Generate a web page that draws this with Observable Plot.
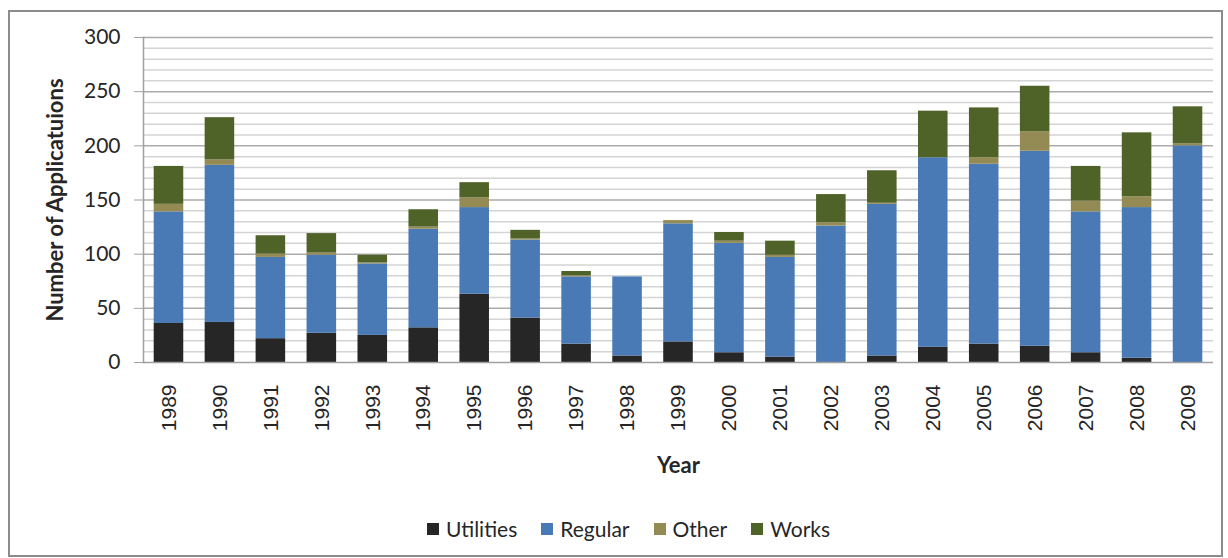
<!DOCTYPE html>
<html>
<head>
<meta charset="utf-8">
<script src="https://cdn.jsdelivr.net/npm/d3@7"></script>
<script src="https://cdn.jsdelivr.net/npm/@observablehq/plot@0.6"></script>
<style>
  html, body { margin: 0; padding: 0; background: #fff; }
  #wrap { position: relative; width: 1228px; height: 558px; overflow: hidden; font-family: Lato, "Open Sans", sans-serif; }
  #border { position: absolute; left: 8px; top: 10px; width: 1211px; height: 543px; border: 2px solid #8c8c8c; pointer-events: none; }
  #chart { position: absolute; left: 0; top: 0; }
  #legend { position: absolute; left: 427px; top: 516px; display: flex; align-items: center; font-size: 21px; color: #262626; white-space: nowrap; }
  .item { display: flex; align-items: center; margin-right: 24px; }
  .sw { width: 12px; height: 12px; margin-right: 7px; }
</style>
</head>
<body>
<div id="wrap">
  <div id="chart"></div>
  <div id="legend"></div>
  <div id="border"></div>
</div>
<script>
const years = ["1989","1990","1991","1992","1993","1994","1995","1996","1997","1998","1999","2000","2001","2002","2003","2004","2005","2006","2007","2008","2009"];
const utilities = [36,37,22,27,25,32,63,41,17,6,19,9,5,0,6,14,17,15,9,4,0];
const regular   = [103,145,75,72,66,91,80,72,62,73,109,101,92,126,140,175,166,180,130,139,200];
const other     = [7,5,3,2,1,2,9,1,1,0,3,2,2,3,1,0,6,18,10,10,2];
const works     = [35,39,17,18,7,16,14,8,4,0,0,8,13,26,30,43,46,42,32,59,34];
const seriesNames = ["Utilities","Regular","Other","Works"];
const seriesColors = ["#262626","#4a7ab5","#948a54","#4f6228"];
const majorTicks = [0,50,100,150,200,250,300];
const minorTicks = d3.range(10, 301, 10).filter(d => d % 50 !== 0);
const yTitle = "Number of Applicatuions";
const xTitle = "Year";

const seriesValues = [utilities, regular, other, works];
const rows = years.flatMap((year, i) =>
  seriesNames.map((s, k) => ({year, series: s, value: seriesValues[k][i]}))
);

const chart = Plot.plot({
  width: 1228,
  height: 500,
  marginLeft: 143,
  marginRight: 15,
  marginTop: 37,
  marginBottom: 138,
  style: {fontFamily: "Lato, sans-serif", background: "transparent", color: "#262626"},
  x: {domain: years, paddingInner: 0.42, paddingOuter: 0.21, round: false, axis: null},
  y: {domain: [0, 300], axis: null},
  color: {domain: seriesNames, range: seriesColors},
  marks: [
    Plot.ruleY(minorTicks, {stroke: "#d4d4d4", strokeWidth: 1.5}),
    Plot.ruleY(majorTicks.filter(d => d > 0), {stroke: "#ababab", strokeWidth: 1.5}),
    Plot.barY(rows, {x: "year", y: "value", fill: "series", order: seriesNames}),
    Plot.ruleY([0], {stroke: "#a0a0a0", strokeWidth: 1.5}),
    Plot.frame({anchor: "left", stroke: "#a0a0a0", strokeWidth: 1.5}),
    Plot.axisY({ticks: majorTicks, tickSize: 9, tickPadding: 14, fontSize: 21, stroke: "#a0a0a0", label: null}),
    Plot.axisX({tickRotate: -90, tickSize: 0, tickPadding: 22, fontSize: 21, fontFamily: "Liberation Sans, Arial, sans-serif", label: null}),
    Plot.text([yTitle], {frameAnchor: "left", dx: -88, rotate: -90, textAnchor: "middle", lineAnchor: "middle", fontWeight: "bold", fontSize: 22}),
    Plot.text([xTitle], {frameAnchor: "bottom", dy: 103, textAnchor: "middle", lineAnchor: "middle", fontWeight: "bold", fontSize: 22})
  ]
});
document.getElementById("chart").appendChild(chart);

const legend = d3.select("#legend");
seriesNames.forEach((s, k) => {
  const it = legend.append("div").attr("class", "item");
  it.append("div").attr("class", "sw").style("background", seriesColors[k]);
  it.append("span").text(s);
});
</script>
</body>
</html>
